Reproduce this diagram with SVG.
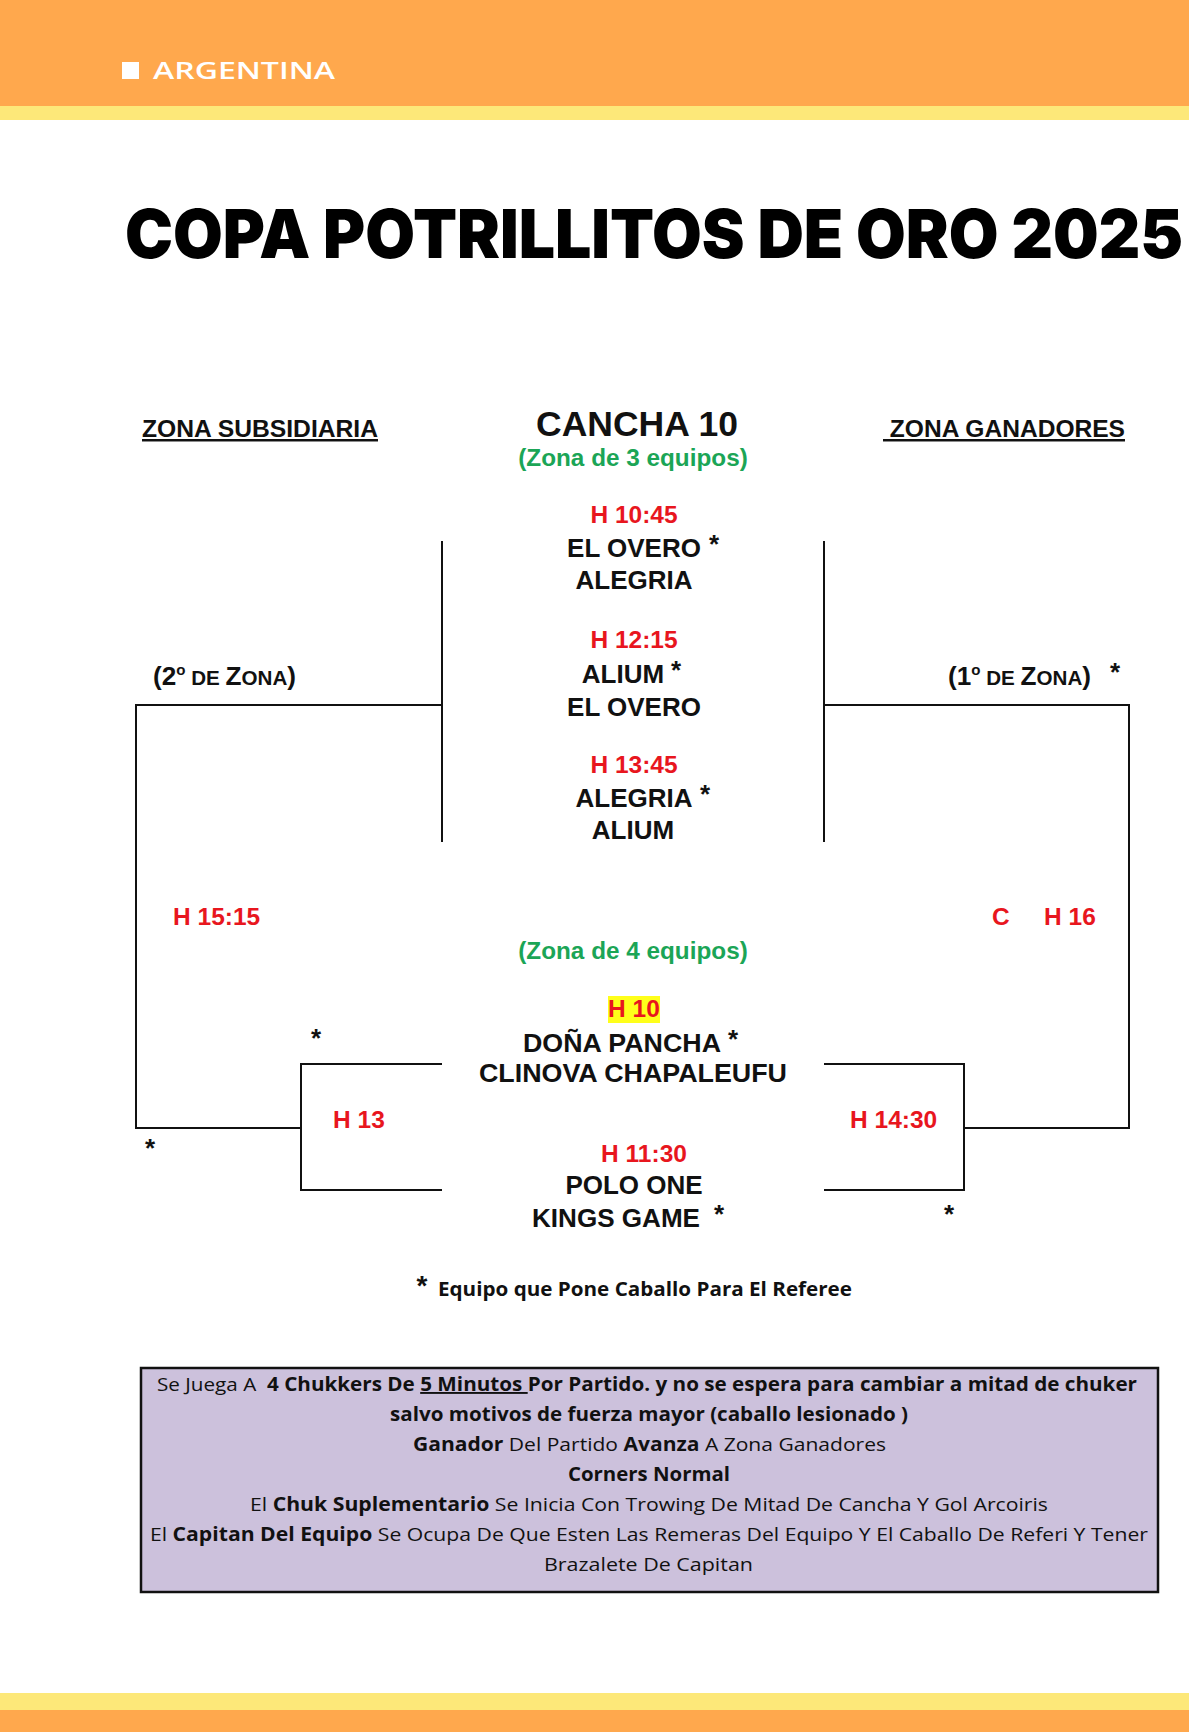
<svg xmlns="http://www.w3.org/2000/svg" width="1189" height="1732" viewBox="0 0 1189 1732">
<style>
.b{font-family:"Liberation Sans",Arial,sans-serif;font-weight:bold;fill:#111}
.t{font-size:26px}
.r{fill:#e8161e;font-size:24.5px}
.g{fill:#1ba556;font-size:24.3px}
.h{font-size:24.8px;text-decoration:underline}
.ln{stroke:#111;stroke-width:2;fill:none}
.c{font-family:"Open Sans","Noto Sans",sans-serif;font-size:19px;fill:#111}
.cb{font-weight:bold}
.sc{font-size:20.5px}
</style>
<rect x="0" y="0" width="1189" height="1732" fill="#fff"/>
<rect x="0" y="0" width="1189" height="106" fill="#ffa84d"/>
<rect x="0" y="106" width="1189" height="14" fill="#fde879"/>
<rect x="0" y="1693" width="1189" height="17" fill="#fde879"/>
<rect x="0" y="1710" width="1189" height="22" fill="#ffa84d"/>
<g id="header">
<rect x="122" y="62" width="17" height="17" fill="#fff"/>
<text x="153" y="79" font-family="'Open Sans',Lato,sans-serif" font-weight="600" font-size="24" fill="#fff" textLength="182" lengthAdjust="spacingAndGlyphs">ARGENTINA</text>
</g>
<g id="title">
<text x="125" y="258" font-family="Inter,'Open Sans',sans-serif" font-weight="900" font-size="68" fill="#000" textLength="1058" lengthAdjust="spacingAndGlyphs">COPA POTRILLITOS DE ORO 2025</text>
</g>
<g id="connectors">
<polyline class="ln" points="442,541 442,842"/>
<polyline class="ln" points="824,541 824,842"/>
<polyline class="ln" points="442,705 136,705 136,1128 301,1128"/>
<polyline class="ln" points="442,1064 301,1064 301,1190 442,1190"/>
<polyline class="ln" points="824,705 1129,705 1129,1128 964,1128"/>
<polyline class="ln" points="824,1064 964,1064 964,1190 824,1190"/>
</g>
<g id="zona-subsidiaria"><text class="b h" x="142" y="437" textLength="236" lengthAdjust="spacingAndGlyphs">ZONA SUBSIDIARIA</text></g>
<g id="zona-ganadores"><text class="b h" x="883" y="437" xml:space="preserve" textLength="242" lengthAdjust="spacingAndGlyphs"> ZONA GANADORES</text></g>
<g id="cancha"><text class="b" x="637" y="436" font-size="35.5" text-anchor="middle">CANCHA 10</text>
<text class="b g" x="633" y="466" text-anchor="middle">(Zona de 3 equipos)</text></g>
<g id="match-1">
<text class="b r" x="634" y="523" text-anchor="middle">H 10:45</text>
<text class="b t" x="634" y="557" text-anchor="middle">EL OVERO</text>
<text class="b t" x="714" y="553" text-anchor="middle">*</text>
<text class="b t" x="634" y="589" text-anchor="middle">ALEGRIA</text>
</g>
<g id="match-2">
<text class="b r" x="634" y="648" text-anchor="middle">H 12:15</text>
<text class="b t" x="623" y="683" text-anchor="middle">ALIUM</text>
<text class="b t" x="676" y="679" text-anchor="middle">*</text>
<text class="b t" x="634" y="716" text-anchor="middle">EL OVERO</text>
</g>
<g id="match-3">
<text class="b r" x="634" y="773" text-anchor="middle">H 13:45</text>
<text class="b t" x="634" y="807" text-anchor="middle">ALEGRIA</text>
<text class="b t" x="705" y="803" text-anchor="middle">*</text>
<text class="b t" x="633" y="839" text-anchor="middle">ALIUM</text>
</g>
<g id="segundo-zona"><text class="b" x="153" y="685" font-size="26" textLength="143" lengthAdjust="spacingAndGlyphs">(2<tspan font-size="15" dy="-10">o</tspan><tspan dy="10" class="sc"> DE </tspan>Z<tspan class="sc">ONA</tspan>)</text></g>
<g id="primero-zona"><text class="b" x="948" y="685" font-size="26" textLength="143" lengthAdjust="spacingAndGlyphs">(1<tspan font-size="15" dy="-10">o</tspan><tspan dy="10" class="sc"> DE </tspan>Z<tspan class="sc">ONA</tspan>)</text>
<text class="b t" x="1115" y="681" text-anchor="middle">*</text></g>
<g id="h1515"><text class="b r" x="173" y="925">H 15:15</text></g>
<g id="h16"><text class="b r" x="992" y="925">C</text><text class="b r" x="1044" y="925">H 16</text></g>
<g id="zona4"><text class="b g" x="633" y="959" text-anchor="middle">(Zona de 4 equipos)</text></g>
<g id="match-4">
<rect x="608" y="996" width="52" height="27" fill="#ffff1a"/>
<text class="b r" x="634" y="1017" text-anchor="middle">H 10</text>
<text class="b t" x="523" y="1052" textLength="198" lengthAdjust="spacingAndGlyphs">DOÑA PANCHA</text>
<text class="b t" x="733" y="1048" text-anchor="middle">*</text>
<text class="b t" x="479" y="1082" textLength="308" lengthAdjust="spacingAndGlyphs">CLINOVA CHAPALEUFU</text>
</g>
<g id="match-5">
<text class="b r" x="644" y="1162" text-anchor="middle">H 11:30</text>
<text class="b t" x="634" y="1194" text-anchor="middle">POLO ONE</text>
<text class="b t" x="532" y="1227" textLength="168" lengthAdjust="spacingAndGlyphs">KINGS GAME</text>
<text class="b t" x="719" y="1223" text-anchor="middle">*</text>
</g>
<g id="h13"><text class="b r" x="333" y="1128">H 13</text></g>
<g id="h1430"><text class="b r" x="850" y="1128">H 14:30</text></g>
<g id="stars">
<text class="b t" x="316" y="1047" text-anchor="middle">*</text>
<text class="b t" x="150" y="1157" text-anchor="middle">*</text>
<text class="b t" x="949" y="1223" text-anchor="middle">*</text>
</g>
<g id="footnote">
<text class="b" x="422" y="1295" font-size="28" text-anchor="middle">*</text>
<text class="c cb" x="438" y="1296" textLength="414" lengthAdjust="spacingAndGlyphs">Equipo que Pone Caballo Para El Referee</text>
</g>
<g id="rules">
<rect x="141" y="1368" width="1017" height="224" fill="#ccc1dc" stroke="#111" stroke-width="2.5"/>
<text class="c" x="157" y="1391" textLength="980" lengthAdjust="spacingAndGlyphs" xml:space="preserve">Se Juega A  <tspan class="cb">4 Chukkers De </tspan><tspan class="cb" text-decoration="underline">5 Minutos </tspan><tspan class="cb">Por Partido. y no se espera para cambiar a mitad de chuker</tspan></text>
<text class="c cb" x="390" y="1421" textLength="518" lengthAdjust="spacingAndGlyphs">salvo motivos de fuerza mayor (caballo lesionado )</text>
<text class="c" x="413" y="1451" textLength="473" lengthAdjust="spacingAndGlyphs"><tspan class="cb">Ganador</tspan> Del Partido <tspan class="cb">Avanza</tspan> A Zona Ganadores</text>
<text class="c cb" x="568" y="1481" textLength="162" lengthAdjust="spacingAndGlyphs">Corners Normal</text>
<text class="c" x="250" y="1511" textLength="798" lengthAdjust="spacingAndGlyphs">El <tspan class="cb">Chuk Suplementario</tspan> Se Inicia Con Trowing De Mitad De Cancha Y Gol Arcoiris</text>
<text class="c" x="150" y="1541" textLength="998" lengthAdjust="spacingAndGlyphs">El <tspan class="cb">Capitan Del Equipo</tspan> Se Ocupa De Que Esten Las Remeras Del Equipo Y El Caballo De Referi Y Tener</text>
<text class="c" x="544" y="1571" textLength="209" lengthAdjust="spacingAndGlyphs">Brazalete De Capitan</text>
</g>
</svg>
